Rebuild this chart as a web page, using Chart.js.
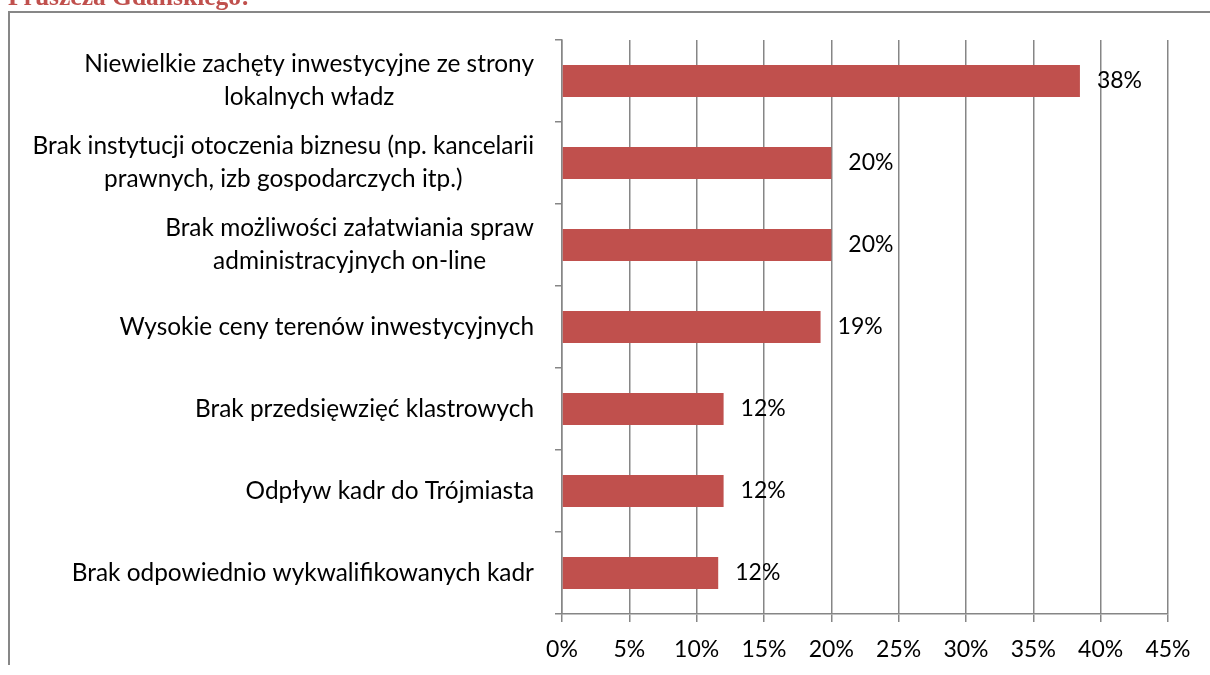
<!DOCTYPE html>
<html>
<head>
<meta charset="utf-8">
<script src="https://cdn.jsdelivr.net/npm/chart.js@4.4.0/dist/chart.umd.min.js"></script>
<style>
  html, body { margin: 0; padding: 0; background: #fff; }
  #wrap { position: relative; width: 1210px; height: 675px; }
</style>
</head>
<body>
<div id="wrap"><canvas id="chart" width="1210" height="675"></canvas></div>
<script>
// Categories (each entry = lines of the wrapped label)
const categories = [
    ['Niewielkie zachęty inwestycyjne ze strony', 'lokalnych władz'],
    ['Brak instytucji otoczenia biznesu (np. kancelarii', 'prawnych, izb gospodarczych itp.)'],
    ['Brak możliwości załatwiania spraw', 'administracyjnych on-line'],
    ['Wysokie ceny terenów inwestycyjnych'],
    ['Brak przedsięwzięć klastrowych'],
    ['Odpływ kadr do Trójmiasta'],
    ['Brak odpowiednio wykwalifikowanych kadr']
];
// Share of answers, in percent
const shares = [38.46, 20, 20, 19.2, 12, 12, 11.6];
// Tick values on the percentage axis
const xTicks = [0, 5, 10, 15, 20, 25, 30, 35, 40, 45];

const titleText = 'Pruszcza Gdańskiego:';

const FONT_FAMILY = 'Lato, Carlito, "Open Sans", sans-serif';
const LABEL_SIZE = 24.4;
const NUM_SIZE = 23;
const GRID = '#868686';
const BAR = '#C0504D';

// Frame and the clipped heading above the chart
const framePlugin = {
    id: 'frame',
    beforeDraw(chart) {
        const ctx = chart.ctx;
        ctx.save();
        ctx.fillStyle = '#fff';
        ctx.fillRect(0, 0, chart.width, chart.height);
        ctx.strokeStyle = '#878787';
        ctx.lineWidth = 2;
        ctx.beginPath();
        ctx.moveTo(9, 665);
        ctx.lineTo(9, 12);
        ctx.lineTo(chart.width, 12);
        ctx.stroke();
        ctx.fillStyle = BAR;
        ctx.font = 'bold 25.5px "Liberation Serif", serif';
        ctx.textBaseline = 'alphabetic';
        ctx.textAlign = 'left';
        ctx.fillText(titleText, 8, 5);
        ctx.restore();
    }
};

// Category names, centred line by line and pushed against the axis
const categoryLabels = {
    id: 'categoryLabels',
    afterDraw(chart) {
        const ctx = chart.ctx;
        const yScale = chart.scales.y;
        const right = chart.chartArea.left - 28;
        const lineH = 33;
        ctx.save();
        ctx.font = LABEL_SIZE + 'px ' + FONT_FAMILY;
        ctx.fillStyle = '#000';
        ctx.textAlign = 'center';
        ctx.textBaseline = 'middle';
        categories.forEach((lines, i) => {
            const w = Math.max(...lines.map(l => ctx.measureText(l).width));
            const cx = right - w / 2;
            const cy = yScale.getPixelForValue(i);
            lines.forEach((line, j) => {
                ctx.fillText(line, cx, cy + (j - (lines.length - 1) / 2) * lineH);
            });
        });
        ctx.restore();
    }
};

// Value labels just past the end of each bar
const valueLabels = {
    id: 'valueLabels',
    afterDatasetsDraw(chart) {
        const ctx = chart.ctx;
        const meta = chart.getDatasetMeta(0);
        ctx.save();
        ctx.font = NUM_SIZE + 'px ' + FONT_FAMILY;
        ctx.fillStyle = '#000';
        ctx.textAlign = 'left';
        ctx.textBaseline = 'middle';
        meta.data.forEach((bar, i) => {
            ctx.fillText(Math.round(shares[i]) + '%', bar.x + 17, bar.y);
        });
        ctx.restore();
    }
};

const ctx = document.getElementById('chart').getContext('2d');
const chart = new Chart(ctx, {
    type: 'bar',
    data: {
        labels: categories.map(l => l.join(' ')),
        datasets: [{
            data: shares,
            backgroundColor: BAR,
            borderWidth: 0,
            barPercentage: 0.39,
            categoryPercentage: 1
        }]
    },
    options: {
        indexAxis: 'y',
        responsive: false,
        animation: false,
        layout: { padding: { top: 40, right: 42, left: 0, bottom: 0 } },
        plugins: {
            legend: { display: false },
            tooltip: { enabled: false }
        },
        scales: {
            x: {
                type: 'linear',
                min: 0,
                max: 45,
                afterBuildTicks: scale => { scale.ticks = xTicks.map(v => ({ value: v })); },
                afterFit: scale => { scale.height = 61; },
                ticks: {
                    callback: v => v + '%',
                    color: '#000',
                    font: { family: FONT_FAMILY, size: NUM_SIZE },
                    padding: 14,
                    maxRotation: 0
                },
                grid: { color: GRID, lineWidth: 1.5, tickLength: 8 },
                border: { color: GRID, width: 1.5 }
            },
            y: {
                afterFit: scale => { scale.width = 562; },
                ticks: { display: false },
                grid: { drawOnChartArea: false, drawTicks: true, tickLength: 7, color: GRID, lineWidth: 1.5 },
                border: { color: GRID, width: 1.5 }
            }
        }
    },
    plugins: [framePlugin, categoryLabels, valueLabels]
});
</script>
</body>
</html>
